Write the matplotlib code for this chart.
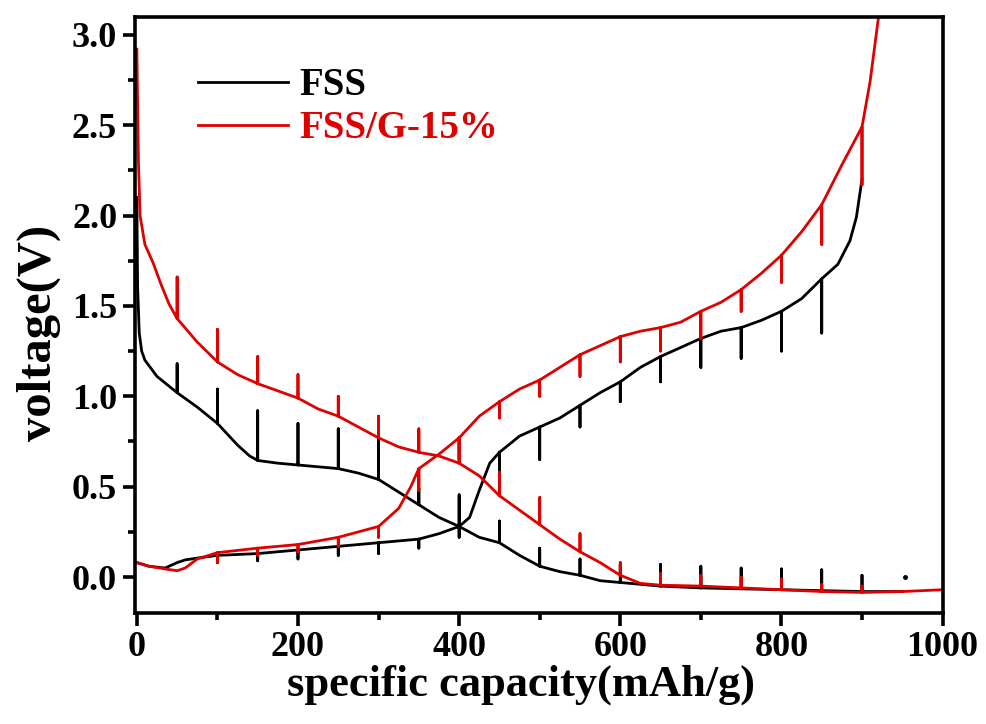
import numpy as np
import matplotlib
matplotlib.use('Agg')
from matplotlib import pyplot as plt
from matplotlib.ticker import MultipleLocator

plt.rcParams['font.family'] = 'Liberation Serif'
plt.rcParams['font.weight'] = 'bold'

_RED = '#e00000'

# GITT discharge / charge profiles, capacity in mAh/g, voltage in V
fss_dis_cap = [0, 1, 3, 6, 10, 25, 50, 75, 100, 125, 140, 150, 175, 200, 225, 250, 275, 300,
               325, 350, 375, 400, 425, 450, 475, 500, 525, 550, 575, 600, 650, 700, 750, 800,
               850, 900, 950]
fss_dis_v = [2.1, 1.6, 1.35, 1.25, 1.2, 1.11, 1.02, 0.94, 0.85, 0.73, 0.67, 0.645, 0.63, 0.62,
             0.61, 0.60, 0.575, 0.54, 0.47, 0.40, 0.33, 0.28, 0.22, 0.19, 0.12, 0.06, 0.03, 0.01,
             -0.02, -0.03, -0.05, -0.06, -0.065, -0.07, -0.075, -0.08, -0.08]
fss_dis_spike_cap = [50, 100, 150, 200, 250, 300, 350, 400, 450, 500, 550, 600, 650, 700, 750,
                     800, 850, 900]
fss_dis_spike_v = [1.18, 1.04, 0.92, 0.85, 0.82, 0.77, 0.49, 0.455, 0.31, 0.16, 0.10, 0.07, 0.07,
                   0.06, 0.05, 0.045, 0.04, 0.01]
fss_rest_end = (953, 0.0)

fss_chg_cap = [0, 15, 35, 50, 60, 75, 100, 150, 200, 250, 300, 350, 375, 400, 413, 425, 438, 450,
               475, 500, 525, 550, 575, 600, 625, 650, 675, 700, 725, 750, 775, 800, 825, 850,
               860, 870, 885, 893, 900]
fss_chg_v = [0.08, 0.06, 0.05, 0.08, 0.095, 0.105, 0.12, 0.13, 0.15, 0.17, 0.19, 0.21, 0.24, 0.28,
             0.33, 0.48, 0.63, 0.69, 0.78, 0.83, 0.88, 0.95, 1.02, 1.08, 1.16, 1.22, 1.27, 1.32,
             1.36, 1.38, 1.42, 1.47, 1.54, 1.65, 1.69, 1.73, 1.86, 1.99, 2.2]
fss_chg_spike_cap = [100, 150, 200, 250, 300, 350, 400, 450, 500, 550, 600, 650, 700, 750, 800, 850]
fss_chg_spike_v = [0.08, 0.09, 0.10, 0.12, 0.13, 0.16, 0.22, 0.57, 0.65, 0.83, 0.97, 1.08, 1.16,
                   1.21, 1.25, 1.35]

fsg_dis_cap = [0, 2, 4, 10, 20, 30, 40, 50, 75, 100, 125, 150, 175, 200, 225, 250, 275, 300, 325,
               350, 375, 400, 425, 450, 475, 500, 525, 550, 575, 600, 625, 650, 700, 750, 800, 850,
               900, 950, 1000]
fsg_dis_v = [2.92, 2.3, 2.0, 1.84, 1.74, 1.62, 1.51, 1.43, 1.30, 1.19, 1.12, 1.07, 1.03, 0.99, 0.93,
             0.89, 0.83, 0.77, 0.72, 0.69, 0.67, 0.63, 0.56, 0.45, 0.37, 0.29, 0.21, 0.14, 0.08,
             0.01, -0.035, -0.045, -0.05, -0.06, -0.07, -0.08, -0.085, -0.08, -0.07]
fsg_dis_spike_cap = [50, 100, 150, 200, 250, 300, 350, 400, 450, 500, 550, 600, 650, 700, 750,
                     800, 850, 900]
fsg_dis_spike_v = [1.66, 1.37, 1.22, 1.12, 1.0, 0.89, 0.82, 0.77, 0.58, 0.44, 0.24, 0.08, 0.02,
                   0.01, 0.0, -0.01, -0.04, -0.05]

fsg_chg_cap = [0, 15, 35, 50, 60, 75, 100, 150, 200, 250, 275, 300, 325, 340, 350, 375, 400, 425,
               450, 475, 500, 525, 550, 575, 600, 625, 650, 675, 700, 725, 750, 775, 800, 825,
               850, 875, 900, 910, 922]
fsg_chg_v = [0.08, 0.06, 0.045, 0.035, 0.05, 0.1, 0.135, 0.16, 0.18, 0.22, 0.25, 0.28, 0.38, 0.5,
             0.6, 0.68, 0.77, 0.89, 0.97, 1.04, 1.09, 1.16, 1.23, 1.28, 1.33, 1.36, 1.38, 1.41,
             1.47, 1.52, 1.59, 1.68, 1.78, 1.91, 2.06, 2.28, 2.49, 2.74, 3.15]
fsg_chg_spike_cap = [100, 150, 200, 250, 300, 350, 400, 450, 500, 550, 600, 650, 700, 750, 800,
                     850, 900]
fsg_chg_spike_v = [0.08, 0.12, 0.14, 0.17, 0.22, 0.48, 0.65, 0.88, 1.0, 1.11, 1.19, 1.25, 1.32,
                   1.47, 1.63, 1.84, 2.17]


def with_relax(cap, volt, spike_cap, spike_v):
    """insert the relaxation spike at the end of each current pulse"""
    tips = dict(zip(spike_cap, spike_v))
    xs, ys = [], []
    for c, v in zip(cap, volt):
        xs.append(c)
        ys.append(v)
        if c in tips:
            xs += [c, c]
            ys += [tips[c], v]
    return xs, ys


fig = plt.figure(figsize=(9.87, 7.24), dpi=100)
ax = fig.add_axes([0.137, 0.153, 0.818, 0.824])

lw = 2.0
x, y = with_relax(fss_dis_cap, fss_dis_v, fss_dis_spike_cap, fss_dis_spike_v)
ax.plot(x, y, color='black', lw=lw, label='FSS')
x, y = with_relax(fss_chg_cap, fss_chg_v, fss_chg_spike_cap, fss_chg_spike_v)
ax.plot(x, y, color='black', lw=lw)
ax.plot([fss_rest_end[0]], [fss_rest_end[1]], 'o', color='black', ms=2.5)

x, y = with_relax(fsg_dis_cap, fsg_dis_v, fsg_dis_spike_cap, fsg_dis_spike_v)
ax.plot(x, y, color=_RED, lw=lw, label='FSS/G-15%')
x, y = with_relax(fsg_chg_cap, fsg_chg_v, fsg_chg_spike_cap, fsg_chg_spike_v)
ax.plot(x, y, color=_RED, lw=lw)

ax.set_xlim(-2, 1000)
ax.set_ylim(-0.2, 3.1)
ax.xaxis.set_major_locator(MultipleLocator(200))
ax.xaxis.set_minor_locator(MultipleLocator(100))
ax.yaxis.set_major_locator(MultipleLocator(0.5))
ax.yaxis.set_minor_locator(MultipleLocator(0.25))
ax.yaxis.set_major_formatter(plt.FuncFormatter(lambda v, p: '{:.1f}'.format(v)))

for s in ax.spines.values():
    s.set_linewidth(2.6)
ax.tick_params(which='major', direction='out', length=9, width=2.6, labelsize=26, pad=4)
ax.tick_params(which='minor', direction='out', length=5, width=2.6)

ax.set_xlabel('specific capacity(mAh/g)', fontsize=32, fontweight='bold', labelpad=0)
ax.set_ylabel('voltage(V)', fontsize=35, fontweight='bold', labelpad=8)
ax.xaxis.label.set_x(0.478)
ax.yaxis.label.set_y(0.47)

leg = ax.legend(loc='upper left', bbox_to_anchor=(0.059, 0.941), frameon=False, fontsize=28,
                handlelength=2.3, handletextpad=0.3, labelspacing=0.15, borderaxespad=0)
for txt, col in zip(leg.get_texts(), ['black', _RED]):
    txt.set_color(col)
for h in leg.get_lines():
    h.set_linewidth(2.0)

plt.savefig('out.png', dpi=100)
